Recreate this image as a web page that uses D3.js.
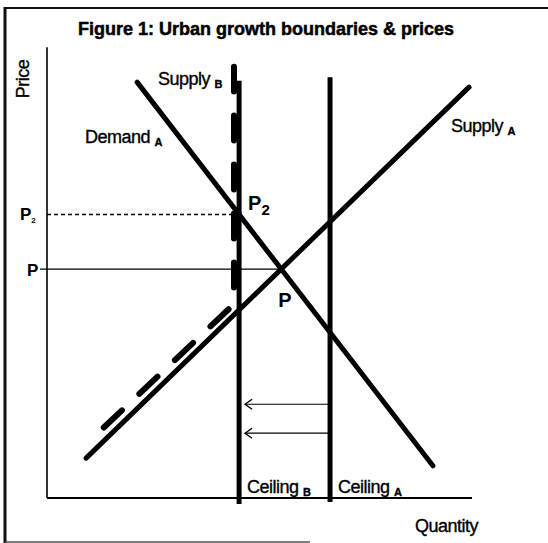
<!DOCTYPE html>
<html>
<head>
<meta charset="utf-8">
<script src="https://cdn.jsdelivr.net/npm/d3@7"></script>
<style>
  body { margin: 0; background: #fff; }
  svg { display: block; }
  text { font-family: "Liberation Sans", Arial, sans-serif; fill: #000; }
  .lbl { font-size: 18px; letter-spacing: -0.5px; stroke: #000; stroke-width: 0.35px; }
</style>
</head>
<body>
<div id="graph"></div>
<script>
// DATA (quantity / price units)
const quantityDomain = [0, 10]
const priceDomain = [0, 10]
const demandA = [{ q: 2.12, p: 9.18 }, { q: 9.08, p: 0.71 }]
const supplyA = [{ q: 0.92, p: 0.88 }, { q: 9.93, p: 9.07 }]
const supplyB = [{ q: 1.25, p: 1.48 }, { q: 4.40, p: 4.28 }, { q: 4.40, p: 9.52 }]
const ceilings = [
  { name: "B", q: 4.52, top: 9.21, bottom: -0.13 },
  { name: "A", q: 6.66, top: 9.29, bottom: -0.09 }
]
const shiftArrows = [{ p: 2.07, from: 6.62, to: 4.66 }, { p: 1.43, from: 6.62, to: 4.66 }]

const width = 548, height = 543
const svg = d3.select("#graph").append("svg").attr("width", width).attr("height", height)

// scales: plot area inside the frame
const x = d3.scaleLinear().domain(quantityDomain).range([47, 472])
const y = d3.scaleLinear().domain(priceDomain).range([498, 45])

// helper: line through two points -> price at quantity q
function priceAt(line, q) {
  const a = line[0], b = line[1]
  return a.p + (b.p - a.p) * (q - a.q) / (b.q - a.q)
}
// intersection of demand and supply A
function intersect(l1, l2) {
  const m1 = (l1[1].p - l1[0].p) / (l1[1].q - l1[0].q)
  const m2 = (l2[1].p - l2[0].p) / (l2[1].q - l2[0].q)
  const q = (l2[0].p - l1[0].p + m1 * l1[0].q - m2 * l2[0].q) / (m1 - m2)
  return { q: q, p: priceAt(l1, q) }
}
const eq = intersect(demandA, supplyA)
const p2 = { q: ceilings[0].q, p: priceAt(demandA, ceilings[0].q) }

// outer frame (scan edges)
svg.append("line").attr("x1", 5).attr("x2", 548).attr("y1", 8).attr("y2", 8)
  .attr("stroke", "#111").attr("stroke-width", 2)
svg.append("line").attr("x1", 5).attr("x2", 5).attr("y1", 7).attr("y2", 543)
  .attr("stroke", "#111").attr("stroke-width", 3)
svg.append("line").attr("x1", 5).attr("x2", 310).attr("y1", 542).attr("y2", 542)
  .attr("stroke", "#555").attr("stroke-width", 1.5)

// title
svg.append("text").attr("x", 266).attr("y", 35).attr("text-anchor", "middle")
  .style("font-size", "18px").style("font-weight", "bold")
  .style("stroke", "#000").style("stroke-width", "0.5px")
  .text("Figure 1: Urban growth boundaries & prices")

// axes
svg.append("line").attr("x1", x(0)).attr("x2", x(0)).attr("y1", y(9.95)).attr("y2", y(0))
  .attr("stroke", "#000").attr("stroke-width", 1.6)
svg.append("line").attr("x1", x(0)).attr("x2", x(10)).attr("y1", y(0)).attr("y2", y(0))
  .attr("stroke", "#000").attr("stroke-width", 1.8)

svg.append("text").attr("class", "lbl").attr("transform", "translate(29,79) rotate(-90)")
  .attr("text-anchor", "middle").text("Price")
svg.append("text").attr("class", "lbl").attr("x", 478).attr("y", 532)
  .attr("text-anchor", "end").text("Quantity")

// price guide lines
svg.append("line").attr("x1", x(0)).attr("x2", x(supplyB[1].q)).attr("y1", y(p2.p)).attr("y2", y(p2.p))
  .attr("stroke", "#000").attr("stroke-width", 1.5).attr("stroke-dasharray", "4 3")
svg.append("line").attr("x1", x(0) - 7).attr("x2", x(eq.q)).attr("y1", y(eq.p)).attr("y2", y(eq.p))
  .attr("stroke", "#000").attr("stroke-width", 1.2)

// price tick labels
const p2Lbl = svg.append("text").attr("x", 20).attr("y", y(p2.p) + 6)
  .style("font-size", "17px").style("font-weight", "bold")
p2Lbl.append("tspan").text("P")
p2Lbl.append("tspan").attr("dy", 3).style("font-size", "8px").text("2")
svg.append("text").attr("x", 27).attr("y", y(eq.p) + 7)
  .style("font-size", "17px").style("font-weight", "bold").text("P")

const line = d3.line().x(d => x(d.q)).y(d => y(d.p))

// ceilings
svg.selectAll(".ceiling").data(ceilings).enter().append("line").attr("class", "ceiling")
  .attr("x1", d => x(d.q)).attr("x2", d => x(d.q))
  .attr("y1", d => y(d.top)).attr("y2", d => y(d.bottom))
  .attr("stroke", "#000").attr("stroke-width", 5)

// shift arrows (line + open chevron head)
const shifts = svg.selectAll(".shift").data(shiftArrows).enter().append("g").attr("class", "shift")
shifts.append("line")
  .attr("x1", d => x(d.from)).attr("x2", d => x(d.to))
  .attr("y1", d => y(d.p)).attr("y2", d => y(d.p))
  .attr("stroke", "#000").attr("stroke-width", 1.2)
shifts.append("path")
  .attr("d", d => `M${x(d.to) + 7},${y(d.p) - 5} L${x(d.to)},${y(d.p)} L${x(d.to) + 7},${y(d.p) + 5}`)
  .attr("fill", "none").attr("stroke", "#000").attr("stroke-width", 1.4)

// supply B (dashed)
svg.append("path").attr("d", line(supplyB)).attr("fill", "none")
  .attr("stroke", "#000").attr("stroke-width", 6).attr("stroke-linecap", "round")
  .attr("stroke-dasharray", "25 24").attr("stroke-dashoffset", -5)

// demand and supply A
svg.append("path").attr("d", line(demandA)).attr("fill", "none")
  .attr("stroke", "#000").attr("stroke-width", 5).attr("stroke-linecap", "round")
svg.append("path").attr("d", line(supplyA)).attr("fill", "none")
  .attr("stroke", "#000").attr("stroke-width", 5).attr("stroke-linecap", "round")

// curve labels
function subLabel(xp, yp, main, sub) {
  const t = svg.append("text").attr("class", "lbl").attr("x", xp).attr("y", yp)
  t.append("tspan").text(main + " ")
  t.append("tspan").attr("dy", 3).style("font-size", "11px").style("font-weight", "bold").text(sub)
}
subLabel(158, 85, "Supply", "B")
subLabel(85, 143, "Demand", "A")
subLabel(451, 132, "Supply", "A")
subLabel(247, 493, "Ceiling", "B")
subLabel(338, 493, "Ceiling", "A")

// equilibrium labels
const p2Big = svg.append("text").attr("x", x(p2.q) + 9).attr("y", y(p2.p) - 4)
  .style("font-size", "20px").style("font-weight", "bold")
p2Big.append("tspan").text("P")
p2Big.append("tspan").attr("dy", 5).style("font-size", "15px").text("2")
svg.append("text").attr("x", x(eq.q) - 3).attr("y", y(eq.p) + 38)
  .style("font-size", "20px").style("font-weight", "bold").text("P")
</script>
</body>
</html>
